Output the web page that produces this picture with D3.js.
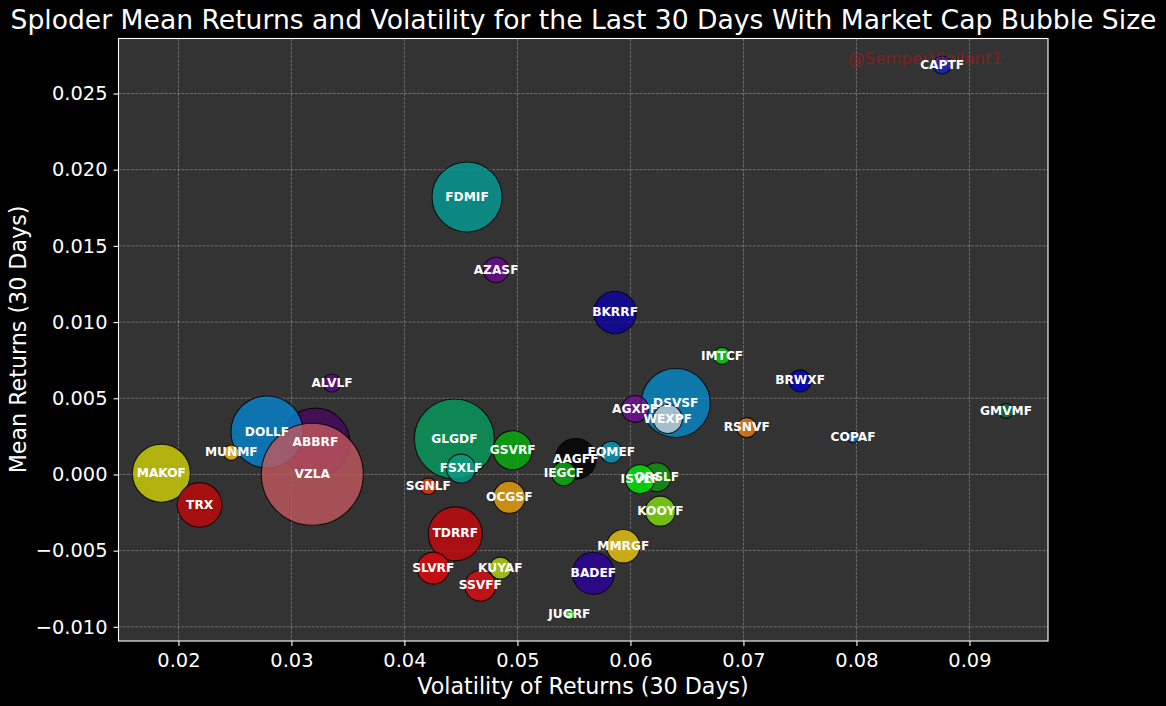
<!DOCTYPE html>
<html><head><meta charset="utf-8">
<script src="https://cdn.jsdelivr.net/npm/d3@7/dist/d3.min.js"></script>
<style>html,body{margin:0;padding:0;background:#000;overflow:hidden}svg{display:block}text{font-family:"DejaVu Sans",sans-serif}</style>
</head><body><svg id="c" width="1166" height="706"></svg>
<script>
const tickers = ["CAPTF","FDMIF","AZASF","BKRRF","IMTCF","BRWXF","ALVLF","ABBRF","DOLLF","DSVSF","AGXPF","WEXPF","RSNVF","COPAF","GMVMF","MUNMF","MAKOF","TRX","VZLA","SGNLF","GLGDF","GSVRF","FSXLF","OCGSF","TDRRF","SLVRF","KUYAF","SSVFF","BADEF","JUGRF","MMRGF","KOOYF","ORSLF","ISVLF","AAGFF","IEGCF","EQMEF"];
const volatility = [.08758,.04554,.04811,.05864,.06811,.07501,.03359,.03212,.02784,.06401,.06041,.06330,.07029,.07970,.09324,.02468,.01849,.02188,.03185,.04212,.04442,.04958,.04501,.04928,.04450,.04256,.04849,.04672,.05672,.05459,.05937,.06265,.06233,.06085,.05516,.05410,.05831];
const meanReturns = [.02687,.01821,.01342,.01063,.00778,.00614,.00600,.00209,.00279,.00469,.00430,.00364,.00307,.00246,.00417,.00143,.00008,-.00200,.00001,-.00077,.00233,.00159,.00038,-.00150,-.00390,-.00615,-.00615,-.00730,-.00648,-.00917,-.00471,-.00241,-.00018,-.00031,.00102,.00005,.00146];
const marketCap = [81,1225,160,450,72,121,81,1190,1296,1190,182,210,100,36,56,59,841,497,2601,69,1600,380,210,256,729,256,121,240,441,30,279,225,210,210,420,144,121];
const colors = ["#1225c8","#039c96","#6a0a90","#0c00a3","#13ce19","#0000c8","#5e0690","#44065d","#0683ce","#0689c8","#700c96","#cad0d6","#ed7d12","#1964bb","#067032","#fac119","#d2d206","#c10606","#c1575d","#e7380c","#069c5d","#06af0c","#099a81","#eda20c","#c8060c","#e7060c","#b5da12","#e10c12","#2b009c","#3eed25","#edc812","#83e10c","#129612","#00ed06","#000000","#06b50c","#069cbb"];
const xTicks = [.02,.03,.04,.05,.06,.07,.08,.09];
const yTicks = [-.01,-.005,0,.005,.01,.015,.02,.025];
const titleText = "Sploder Mean Returns and Volatility for the Last 30 Days With Market Cap Bubble Size";
const xLabel = "Volatility of Returns (30 Days)", yLabel = "Mean Returns (30 Days)", watermark = "@SemperVigilant1";

const L=118.5,R=1048,T=38.5,B=641;
const x=d3.scaleLinear().domain([.0147,.09695]).range([L,R]);
const y=d3.scaleLinear().domain([-.01093,.02861]).range([B,T]);
const r=d3.scaleSqrt().domain([0,100]).range([0,10]);
const svg=d3.select("#c");
svg.append("rect").attr("width",1166).attr("height",706).attr("fill","#000");
svg.append("rect").attr("x",L).attr("y",T).attr("width",R-L).attr("height",B-T).attr("fill","#333");
const grid=svg.append("g").attr("stroke","#fff").attr("stroke-opacity",.42).attr("stroke-width",.7).attr("stroke-dasharray","3,1.2");
grid.selectAll(".v").data(xTicks).join("line").attr("x1",d=>x(d)).attr("x2",d=>x(d)).attr("y1",T).attr("y2",B);
grid.selectAll(".h").data(yTicks).join("line").attr("y1",d=>y(d)).attr("y2",d=>y(d)).attr("x1",L).attr("x2",R);
const idx=d3.range(tickers.length);
svg.append("g").selectAll("circle").data(idx).join("circle")
 .attr("cx",i=>x(volatility[i])).attr("cy",i=>y(meanReturns[i])).attr("r",i=>r(marketCap[i]))
 .attr("fill",i=>colors[i]).attr("fill-opacity",.8).attr("stroke","#000").attr("stroke-opacity",.8).attr("stroke-width",1.1);
svg.append("text").attr("x",848).attr("y",64).attr("fill","#f00").attr("fill-opacity",.42).attr("font-size",16.6).text(watermark);
svg.append("g").selectAll("text").data(idx).join("text")
 .attr("x",i=>x(volatility[i])).attr("y",i=>y(meanReturns[i])+3.6).attr("text-anchor","middle")
 .attr("fill","#fff").attr("font-weight","bold").attr("font-size",12.2).text(i=>tickers[i]);
svg.append("rect").attr("x",L).attr("y",T).attr("width",R-L).attr("height",B-T).attr("fill","none").attr("stroke","#fff").attr("stroke-width",1.1);
const minus=f=>v=>f(v).replace("-","\u2212");
const ax=svg.append("g").attr("transform",`translate(0,${B})`).call(d3.axisBottom(x).tickValues(xTicks).tickFormat(d3.format(".2f")).tickSize(5).tickPadding(7));
const ay=svg.append("g").attr("transform",`translate(${L},0)`).call(d3.axisLeft(y).tickValues(yTicks).tickFormat(minus(d3.format(".3f"))).tickSize(5).tickPadding(6));
for(const a of [ax,ay]){a.select(".domain").remove();a.selectAll("line").attr("stroke","#fff").attr("stroke-width",1.1);a.selectAll("text").attr("fill","#fff").attr("font-size",19.4).attr("font-family",'"DejaVu Sans"');}
svg.append("text").attr("x",583.5).attr("y",29).attr("text-anchor","middle").attr("fill","#fff").attr("font-size",26.6).text(titleText);
svg.append("text").attr("x",583).attr("y",693.5).attr("text-anchor","middle").attr("fill","#fff").attr("font-size",22.2).text(xLabel);
svg.append("text").attr("transform","translate(26,339.5) rotate(-90)").attr("text-anchor","middle").attr("fill","#fff").attr("font-size",22.2).text(yLabel);
</script></body></html>
